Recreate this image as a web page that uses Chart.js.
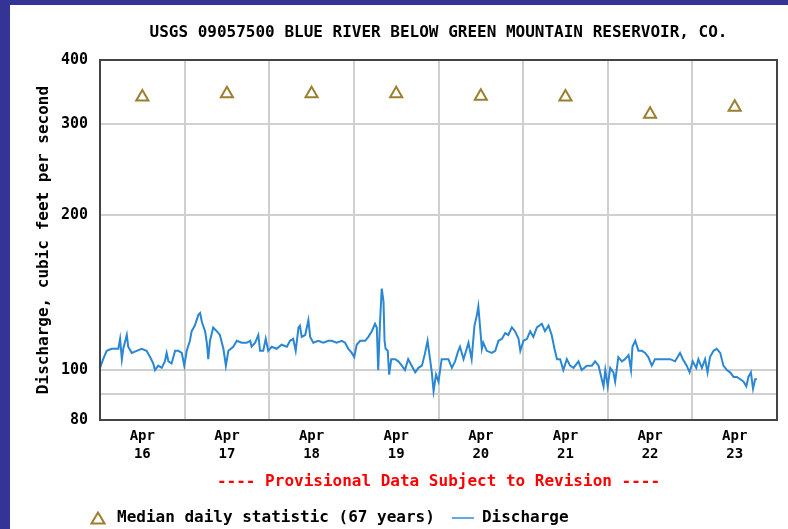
<!DOCTYPE html>
<html>
<head>
<meta charset="utf-8">
<title>USGS 09057500 Blue River below Green Mountain Reservoir</title>
<script src="https://cdn.jsdelivr.net/npm/chart.js@4/dist/chart.umd.min.js"></script>
<style>
  html, body { margin: 0; padding: 0; overflow: hidden; background: #fff; }
  body { width: 788px; height: 529px; position: relative; }
  #frame {
    position: absolute; left: 0; top: 0;
    width: 778px; height: 531px;
    border-left: 10px solid #343496;
    border-top: 5px solid #343496;
    background: #fff;
  }
  canvas { display: block; }
</style>
</head>
<body>
<div id="frame"><canvas id="chart" width="778" height="531"></canvas></div>
<script>
// Discharge for the week, hours counted from Apr 16 00:00 (MDT)
const monthLabel = 'Apr';
const dayLabels = ['16', '17', '18', '19', '20', '21', '22', '23'];

// daily median statistic, one value per day (plotted at noon)
const medianCfs = [339, 344, 344, 344, 340, 339, 314, 324];

// y axis: gridlines and which of them carry a label
const yTickValues = [80, 90, 100, 200, 300, 400];
const yTickLabels = [80, 100, 200, 300, 400];

const dischargeHours = [
  0.0, 0.9, 1.9, 3.3, 5.2, 5.7, 6.2, 6.6, 7.6, 8.0, 9.0, 10.4, 11.8, 13.2, 14.2, 15.1,
  15.6, 16.5, 17.5, 18.4, 18.9, 19.4, 20.3, 21.3, 22.2, 23.2, 23.9, 24.6, 25.5, 26.0,
  26.9, 27.9, 28.4, 28.9, 29.8, 30.3, 30.7, 31.2, 32.1, 33.1, 34.0, 35.0, 35.7, 36.4,
  37.8, 38.8, 40.2, 41.6, 42.6, 43.0, 44.0, 44.9, 45.4, 46.3, 47.0, 47.7, 48.7, 50.1,
  51.5, 53.0, 53.9, 54.8, 55.5, 56.3, 56.7, 57.2, 58.2, 59.1, 59.6, 60.5, 61.9, 63.3,
  64.8, 65.7, 67.1, 68.6, 69.5, 70.4, 71.4, 72.1, 72.8, 73.8, 75.2, 76.1, 77.1, 78.0,
  78.5, 78.9, 79.4, 79.9, 80.4, 80.7, 81.0, 81.6, 82.0, 82.6, 83.7, 84.6, 85.6, 86.5,
  87.4, 88.4, 89.4, 90.3, 91.3, 92.2, 92.9, 93.6, 94.1, 94.6, 95.3, 96.0, 96.9, 97.4,
  98.8, 99.8, 100.7, 101.6, 102.1, 103.1, 104.0, 104.5, 105.4, 106.2, 106.9, 107.3,
  107.8, 108.3, 108.7, 109.7, 111.1, 112.1, 113.0, 114.0, 114.9, 115.8, 116.8, 117.7,
  118.7, 119.2, 120.1, 121.1, 122.0, 122.9, 123.9, 125.3, 126.2, 127.2, 128.1, 128.9,
  129.6, 130.5, 131.4, 132.4, 133.3, 134.3, 135.7, 136.6, 138.1, 139.5, 140.4, 141.4,
  142.3, 142.8, 143.3, 144.0, 144.7, 145.6, 146.1, 147.0, 148.0, 148.9, 149.9, 150.6,
  151.0, 151.8, 152.7, 153.7, 154.6, 155.5, 156.5, 157.4, 158.9, 160.3, 161.7, 163.1,
  164.5, 165.3, 166.4, 167.2, 168.1, 169.1, 169.7, 170.7, 171.6, 172.3, 173.0, 174.0,
  174.9, 175.9, 176.8, 177.8, 178.7, 179.7, 180.6, 181.6, 182.5, 183.3, 183.9, 184.6,
  185.2, 185.8, 186.3
];

const dischargeCfs = [
  101, 105, 109, 110, 110, 115, 105, 110, 117, 111, 108, 109, 110, 109, 106, 103,
  100, 102, 101, 104, 108, 104, 103, 109, 109, 108, 102, 109, 114, 119,
  122, 128, 129, 124, 119, 113, 105, 114, 121, 119, 117, 110, 102, 109,
  111, 114, 113, 113, 114, 111, 113, 117, 109, 109, 115, 109, 111, 110,
  112, 111, 114, 115, 109, 121, 122, 116, 117, 125, 116, 113, 114, 113,
  114, 114, 113, 114, 113, 110, 108, 106, 112, 114, 114, 116, 119, 123,
  121, 100, 123, 144, 136, 114, 110, 109, 98, 105, 105, 104, 102, 100,
  105, 102, 99, 101, 102, 108, 114, 105, 99, 91, 98, 95, 105, 105,
  105, 101, 104, 109, 111, 105, 110, 113, 105, 122, 128, 133,
  121, 110, 113, 109, 108, 109, 114, 115, 118, 117, 121, 119,
  115, 109, 114, 115, 119, 116, 121, 123, 119, 122, 117, 110,
  105, 105, 100, 105, 102, 101, 104, 100, 102, 102, 104, 102,
  96, 93, 100, 93, 101, 99, 95, 106, 104, 105, 107, 100,
  111, 114, 109, 109, 108, 106, 102, 105, 105, 105, 105, 104,
  108, 105, 102, 99, 104, 101, 105, 101, 105, 99, 106, 109,
  110, 108, 102, 100, 99, 97, 97, 96, 95, 93, 97, 99,
  92, 96, 96
];

const mono = "'DejaVu Sans Mono', 'Liberation Mono', monospace";
Chart.defaults.font.family = mono;
Chart.defaults.font.weight = 'bold';
Chart.defaults.color = '#000';

const gridGray = '#d0d0d0';
const medianColor = '#9a7f2e';

// small open triangle for the legend (the built-in one gets stretched by pointStyleWidth)
const legendTriangle = document.createElement('canvas');
legendTriangle.width = 16;
legendTriangle.height = 14;
(() => {
  const c = legendTriangle.getContext('2d');
  c.strokeStyle = medianColor;
  c.lineWidth = 2;
  c.beginPath();
  c.moveTo(8, 1.5);
  c.lineTo(14.5, 12.5);
  c.lineTo(1.5, 12.5);
  c.closePath();
  c.stroke();
})();

// dark box around the plotting area
const plotFrame = {
  id: 'plotFrame',
  afterDatasetsDraw(chart) {
    const { ctx, chartArea: a } = chart;
    ctx.save();
    ctx.strokeStyle = '#444';
    ctx.lineWidth = 2;
    ctx.strokeRect(a.left, a.top, a.right - a.left, a.bottom - a.top);
    ctx.restore();
  }
};

// legend starts just left of the y axis line
const legendNudge = {
  id: 'legendNudge',
  afterLayout(chart) {
    const lg = chart.legend;
    if (!lg) return;
    lg.left = chart.chartArea.left - 30;
    lg.right = lg.left + lg.width;
  }
};

const ctx = document.getElementById('chart').getContext('2d');
const chart = new Chart(ctx, {
  type: 'line',
  data: {
    datasets: [
      {
        label: 'Median daily statistic (67 years)',
        data: medianCfs.map((v, i) => ({ x: 12 + 24 * i, y: v })),
        showLine: false,
        pointStyle: 'triangle',
        pointRadius: 7,
        pointBorderWidth: 2,
        pointBorderColor: medianColor,
        pointBackgroundColor: '#fff',
        borderColor: medianColor,
        backgroundColor: '#fff',
      },
      {
        label: 'Discharge',
        data: dischargeHours.map((h, i) => ({ x: h, y: dischargeCfs[i] })),
        borderColor: '#2a87d3',
        borderWidth: 2,
        tension: 0,
        pointRadius: 0,
        pointStyle: 'line',
        pointBorderColor: '#62a9e3',
        pointBorderWidth: 2,
      },
    ],
  },
  options: {
    responsive: false,
    devicePixelRatio: 1,
    animation: false,
    events: [],
    layout: { padding: { left: 0, right: 11, top: 0, bottom: 0 } },
    plugins: {
      title: {
        display: true,
        text: 'USGS 09057500 BLUE RIVER BELOW GREEN MOUNTAIN RESERVOIR, CO.',
        fullSize: false,
        color: '#000',
        font: { size: 16, weight: 'bold' },
        padding: { top: 18.4, bottom: 17.4 },
      },
      subtitle: {
        display: true,
        position: 'bottom',
        fullSize: false,
        weight: 500,
        text: '---- Provisional Data Subject to Revision ----',
        color: '#f00',
        font: { size: 16, weight: 'bold' },
        padding: { top: 4.4, bottom: 1.4 },
      },
      legend: {
        position: 'bottom',
        align: 'start',
        fullSize: false,
        labels: {
          usePointStyle: true,
          pointStyleWidth: 22,
          boxHeight: 9,
          padding: 17,
          color: '#000',
          font: { size: 16, weight: 'bold' },
          generateLabels: c => {
            const items = Chart.defaults.plugins.legend.labels.generateLabels(c);
            items[0].pointStyle = legendTriangle;
            return items;
          },
        },
      },
      tooltip: { enabled: false },
    },
    scales: {
      x: {
        type: 'linear',
        min: 0,
        max: 192,
        afterFit: s => { s.height = 48; },
        border: { display: false },
        grid: {
          color: c => (c.tick && c.tick.value % 24 === 0) ? gridGray : 'rgba(0,0,0,0)',
          lineWidth: 2,
          drawTicks: false,
        },
        ticks: {
          stepSize: 12,
          autoSkip: false,
          maxRotation: 0,
          padding: 8,
          font: { size: 14, weight: 'bold', lineHeight: 1.25 },
          callback: v => v % 24 === 12 ? [monthLabel, dayLabels[(v - 12) / 24]] : '',
        },
      },
      y: {
        type: 'logarithmic',
        min: 80,
        max: 400,
        afterBuildTicks: s => { s.ticks = yTickValues.map(v => ({ value: v })); },
        afterFit: s => { s.width = 90; },
        border: { display: false },
        grid: { color: gridGray, lineWidth: 2, drawTicks: false },
        ticks: {
          padding: 12,
          font: { size: 15, weight: 'bold' },
          callback: v => yTickLabels.includes(v) ? String(v) : '',
        },
        title: {
          display: true,
          text: 'Discharge, cubic feet per second',
          font: { size: 16, weight: 'bold' },
          padding: { top: 24.4, bottom: 0 },
        },
      },
    },
  },
  plugins: [plotFrame, legendNudge],
});
</script>
</body>
</html>
